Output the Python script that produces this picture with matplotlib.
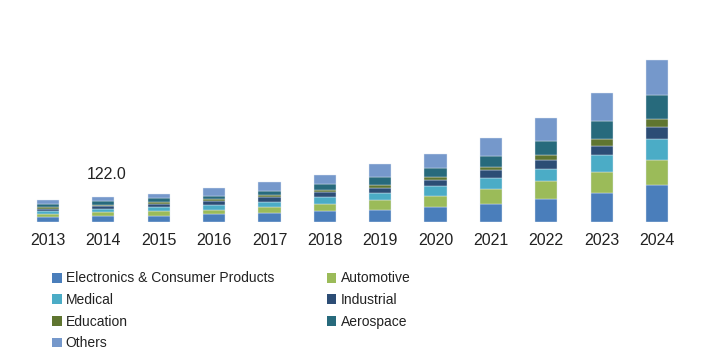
import matplotlib.pyplot as plt
from matplotlib.patches import Patch
import numpy as np

plt.rcParams["font.family"] = ["Liberation Sans", "DejaVu Sans"]

years = ["2013", "2014", "2015", "2016", "2017", "2018",
         "2019", "2020", "2021", "2022", "2023", "2024"]

# estimated market size per segment
electronics = [22.9, 27.8, 31.2, 37.6, 45.4, 52.2, 60.0, 74.7, 89.8, 114.2, 143.5, 182.5]
automotive = [16.6, 19.5, 22.0, 22.9, 29.3, 37.6, 45.4, 52.2, 69.8, 84.4, 100.5, 122.0]
medical = [14.6, 16.1, 21.0, 24.4, 24.4, 32.7, 37.6, 47.3, 53.7, 62.0, 83.0, 99.1]
industrial = [11.2, 13.2, 14.6, 16.1, 22.9, 22.9, 24.4, 29.3, 39.0, 43.9, 43.9, 60.0]
education = [6.3, 8.3, 8.3, 9.8, 9.8, 9.8, 14.6, 16.1, 16.1, 22.4, 32.7, 37.6]
aerospace = [14.6, 18.1, 19.5, 16.1, 19.5, 29.3, 37.6, 45.4, 52.2, 68.3, 89.3, 117.1]
others = [19.5, 19.0, 22.0, 39.0, 45.4, 45.4, 62.0, 68.3, 91.3, 114.2, 138.6, 174.2]

names = ["Electronics & Consumer Products", "Automotive", "Medical",
         "Industrial", "Education", "Aerospace", "Others"]
series = [electronics, automotive, medical, industrial, education, aerospace, others]
colors = ["#4a7ebb", "#9bbb59", "#4bacc6", "#2c4d75", "#5f7530", "#276a7c", "#7598cb"]

fig = plt.figure(figsize=(7.1, 3.62), dpi=100)
ax = fig.add_axes([0.0286, 0.3867, 0.9358, 0.558])

x = np.arange(len(years))
bottom = np.zeros(len(years))
for vals, c in zip(series, colors):
    ax.bar(x, vals, width=0.4, bottom=bottom, color=c,
           edgecolor="#dfe7f2", linewidth=0.3)
    bottom += np.array(vals)

# value label for 2014
ax.text(1.05, bottom[1] + 75, "122.0", ha="center", va="bottom",
        fontsize=11.5, color="#222222")

ax.set_xlim(-0.5, len(years) - 0.5)
ax.set_ylim(0, 986)
ax.set_xticks(x)
ax.set_xticklabels(years, fontsize=11.5, color="#222222")
ax.set_yticks([])
ax.tick_params(axis="x", length=0, pad=8)
for s in ax.spines.values():
    s.set_visible(False)

handles = [Patch(facecolor=c, edgecolor="none") for c in colors]
left_idx = [0, 2, 4, 6]
right_idx = [1, 3, 5]
leg_kw = dict(frameon=False, fontsize=10, handlelength=0.7, handleheight=0.7,
              handletextpad=0.3, labelspacing=0.55, borderaxespad=0, borderpad=0)
leg1 = fig.legend([handles[i] for i in left_idx], [names[i] for i in left_idx],
                  loc="upper left", bbox_to_anchor=(0.073, 0.25), **leg_kw)
leg2 = fig.legend([handles[i] for i in right_idx], [names[i] for i in right_idx],
                  loc="upper left", bbox_to_anchor=(0.46, 0.25), **leg_kw)
for leg in (leg1, leg2):
    for t in leg.get_texts():
        t.set_color("#222222")

plt.savefig("out.png", dpi=100)
